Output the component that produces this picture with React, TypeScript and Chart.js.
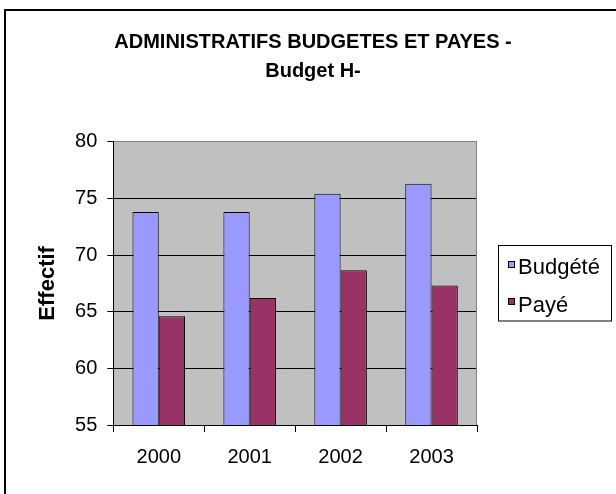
import React, { useEffect, useRef } from "react";
import { Chart, registerables } from "chart.js";

Chart.register(...registerables);

const categories = ["2000", "2001", "2002", "2003"];
const budgete = [73.8, 73.8, 75.4, 76.3];
const paye = [64.6, 66.2, 68.65, 67.3];
const seriesNames = ["Budgété", "Payé"];
const seriesColors = ["#9999FF", "#993366"];
const titleLines = ["ADMINISTRATIFS BUDGETES ET PAYES -", "Budget H-"];
const yTitle = "Effectif";
const yMin = 55;
const yMax = 80;
const yStep = 5;

const FONT = '"Liberation Sans", Arial, sans-serif';

const decorPlugin = {
  id: "decor",
  beforeDraw(chart: any) {
    const { ctx, chartArea: a } = chart;
    ctx.save();
    ctx.fillStyle = "#ffffff";
    ctx.fillRect(0, 0, chart.width, chart.height);
    ctx.fillStyle = "#C0C0C0";
    ctx.fillRect(a.left, a.top, a.right - a.left, a.bottom - a.top);
    ctx.restore();
  },
  beforeDatasetsDraw(chart: any) {
    const { ctx, chartArea: a } = chart;
    ctx.save();
    ctx.strokeStyle = "#808080";
    ctx.lineWidth = 1;
    const x = Math.round(a.right) - 0.5;
    ctx.beginPath();
    ctx.moveTo(x, a.top);
    ctx.lineTo(x, a.bottom);
    ctx.stroke();
    ctx.restore();
  },
  afterDraw(chart: any) {
    const { ctx } = chart;
    ctx.save();
    // outer frame
    ctx.strokeStyle = "#000";
    ctx.lineWidth = 2;
    ctx.strokeRect(5, 10, chart.width + 20, chart.height + 20);
    // title
    ctx.fillStyle = "#000";
    ctx.textAlign = "center";
    ctx.textBaseline = "alphabetic";
    ctx.font = `bold 20px ${FONT}`;
    ctx.fillText(titleLines[0], 313, 48.3);
    ctx.fillText(titleLines[1], 313, 76.7);
    // legend box
    ctx.lineWidth = 1;
    ctx.strokeRect(498.5, 245.5, 113, 75.5);
    const ds = chart.data.datasets;
    const rows = [261, 298];
    const baselines = [274.3, 311.5];
    ctx.textAlign = "left";
    ctx.font = `22px ${FONT}`;
    ds.forEach((d: any, i: number) => {
      ctx.fillStyle = d.backgroundColor;
      ctx.fillRect(508, rows[i], 7, 7);
      ctx.strokeStyle = "#000";
      ctx.strokeRect(508.5, rows[i] + 0.5, 6, 6);
      ctx.fillStyle = "#000";
      ctx.fillText(d.label, 518, baselines[i]);
    });
    ctx.restore();
  },
};

export default function App() {
  const ref = useRef<HTMLCanvasElement>(null);
  useEffect(() => {
    if (!ref.current) return;
    const chart = new Chart(ref.current, {
      type: "bar",
      data: {
        labels: categories,
        datasets: [
          {
            label: seriesNames[0],
            data: budgete,
            backgroundColor: seriesColors[0],
            borderColor: "#000",
            borderWidth: 1,
            categoryPercentage: 0.578,
            barPercentage: 1,
          },
          {
            label: seriesNames[1],
            data: paye,
            backgroundColor: seriesColors[1],
            borderColor: "#000",
            borderWidth: 1,
            categoryPercentage: 0.578,
            barPercentage: 1,
          },
        ],
      },
      options: {
        responsive: false,
        devicePixelRatio: 1,
        animation: false,
        layout: { padding: { top: 141.7, right: 139, bottom: 0, left: 0 } },
        plugins: {
          legend: { display: false },
          title: { display: false },
          tooltip: { enabled: false },
        },
        scales: {
          x: {
            afterFit: (s: any) => {
              s.height = 69;
            },
            grid: {
              offset: true,
              drawOnChartArea: false,
              drawTicks: true,
              tickLength: 7,
              tickColor: "#000",
              color: "#000",
            },
            border: { display: true, color: "#000", width: 1 },
            ticks: {
              color: "#000",
              padding: 13.5,
              font: { family: FONT, size: 20 },
            },
          },
          y: {
            min: yMin,
            max: yMax,
            afterFit: (s: any) => {
              s.width = 113.3;
            },
            ticks: {
              stepSize: yStep,
              color: "#000",
              padding: 10,
              font: { family: FONT, size: 20 },
            },
            grid: {
              color: (c: any) => (c.tick && c.tick.value === yMax ? "#808080" : "#000"),
              tickColor: "#000",
              tickLength: 6,
              lineWidth: 1,
            },
            border: { display: true, color: "#000", width: 1 },
            title: {
              display: true,
              text: yTitle,
              color: "#000",
              font: { family: FONT, size: 22, weight: "bold" },
              padding: { top: 34.5, bottom: 0 },
            },
          },
        },
      },
      plugins: [decorPlugin],
    });
    return () => chart.destroy();
  }, []);
  return (
    <div style={{ position: "absolute", left: 0, top: 0, width: 616, height: 494 }}>
      <canvas ref={ref} width={616} height={494} style={{ display: "block" }} />
    </div>
  );
}
